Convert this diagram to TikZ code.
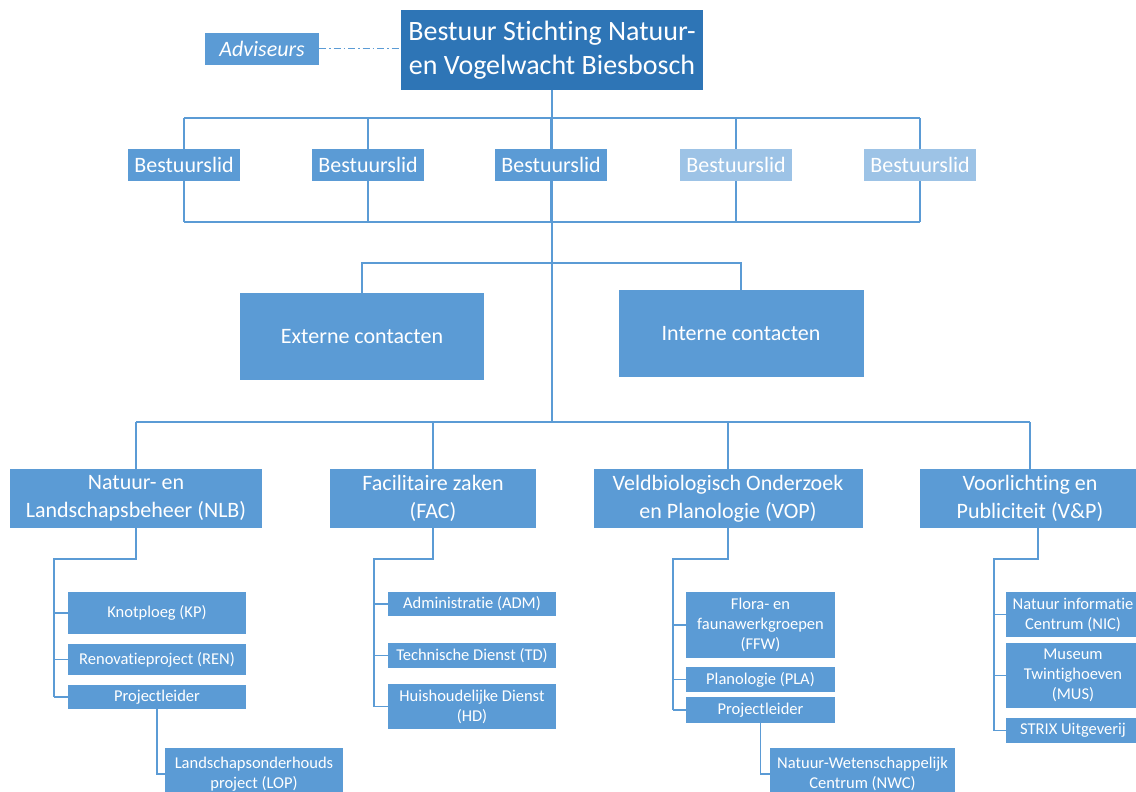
\documentclass[tikz,border=0pt]{standalone}
\usepackage{fontspec}
\setmainfont{Carlito}[Ligatures=NoCommon]
\usetikzlibrary{backgrounds}

\definecolor{blauw}{HTML}{5B9BD5}
\definecolor{donkerblauw}{HTML}{2E75B6}
\definecolor{lichtblauw}{HTML}{9DC3E6}

\tikzset{
  vak/.style={fill=blauw, text=white, inner sep=0pt, align=center},
  maat/.style 2 args={minimum width=#1pt, minimum height=#2pt},
  groot/.style={font=\fontsize{22}{28}\selectfont},
  klein/.style={font=\fontsize{16.5}{20}\selectfont},
  lijn/.style={draw=blauw, line width=1.3pt},
}

\begin{document}
\begin{tikzpicture}[x=1pt, y=-1pt]

\useasboundingbox (0,0) rectangle (1136,792);
\clip (0,0) rectangle (1136,792);

% Hoogte van de verbindingslijnen
\def \yLidBoven {118}
\def \yLidOnder {222}
\def \yContact {263}
\def \yAfdeling {422}
\def \yRug {559}

% Bestuur en adviseurs
\node[vak, fill=donkerblauw, maat={302}{80}, font=\fontsize{28}{34}\selectfont] (bestuur) at (552,50) {Bestuur Stichting Natuur-\\en Vogelwacht Biesbosch};
\node[vak, maat={114}{32}, font={\fontsize{22}{28}\selectfont\itshape}] (adviseurs) at (262,49) {Adviseurs};

% Bestuursleden
\foreach \x/\kleur [count=\i] in {184/blauw, 368/blauw, 551/blauw, 736/lichtblauw, 920/lichtblauw}
  \node[vak, fill=\kleur, maat={112}{32}, groot] (lid\i) at (\x,165) {Bestuurslid};

% Contacten
\node[vak, maat={244}{87}, groot] (extern) at (362,336.5) {Externe contacten};
\node[vak, maat={245}{87}, groot] (intern) at (741,333.5) {Interne contacten};

% Afdelingen
\node[vak, maat={252}{59}, groot] (nlb) at (136,498.5) {Natuur- en\\Landschapsbeheer (NLB)};
\node[vak, maat={206}{59}, groot] (fac) at (433,498.5) {Facilitaire zaken\\(FAC)};
\node[vak, maat={269}{59}, groot] (vop) at (728,498.5) {Veldbiologisch Onderzoek\\en Planologie (VOP)};
\node[vak, maat={220}{59}, groot] (vp) at (1030,498.5) {Voorlichting en\\Publiciteit (V\&P)};

% Werkgroepen NLB
\node[vak, maat={178}{42}, klein] (kp) at (157,613) {Knotploeg (KP)};
\node[vak, maat={178}{31}, klein] (ren) at (157,659.5) {Renovatieproject (REN)};
\node[vak, maat={178}{24}, klein] (pl1) at (157,697) {Projectleider};
\node[vak, maat={178}{52}, klein] (lop) at (254,774) {Landschapsonderhouds\\project (LOP)};

% Werkgroepen FAC
\node[vak, maat={168}{24}, klein] (adm) at (472,604) {Administratie (ADM)};
\node[vak, maat={168}{25}, klein] (td) at (472,655.5) {Technische Dienst (TD)};
\node[vak, maat={168}{45}, klein] (hd) at (472,706.5) {Huishoudelijke Dienst\\(HD)};

% Werkgroepen VOP
\node[vak, maat={149}{66}, klein] (ffw) at (760.5,625) {Flora- en\\faunawerkgroepen\\(FFW)};
\node[vak, maat={149}{25}, klein] (pla) at (760.5,679.5) {Planologie (PLA)};
\node[vak, maat={149}{26}, klein] (pl2) at (760.5,710) {Projectleider};
\node[vak, maat={185}{52}, klein] (nwc) at (862.5,774) {Natuur-Wetenschappelijk\\Centrum (NWC)};

% Werkgroepen V&P
\node[vak, maat={134}{45}, klein] (nic) at (1073,614.5) {Natuur informatie\\Centrum (NIC)};
\node[vak, maat={134}{65}, klein] (mus) at (1073,675.5) {Museum\\Twintighoeven\\(MUS)};
\node[vak, maat={134}{25}, klein] (strix) at (1073,730.5) {STRIX Uitgeverij};

\begin{pgfonlayer}{background}
\fill[white] (0,0) rectangle (1136,792);

\coordinate (lidBoven) at (551,\yLidBoven);
\coordinate (lidOnder) at (551,\yLidOnder);
\coordinate (contact) at (551,\yContact);
\coordinate (afdeling) at (551,\yAfdeling);

% adviseurs
\draw[lijn, line width=1pt, dash pattern=on 7pt off 3pt on 1.5pt off 3pt] (adviseurs.east) -- (adviseurs.east -| bestuur.west);

% hoofdlijn en bestuursleden
\draw[lijn] (bestuur.south) -- (bestuur.south |- afdeling);
\draw[lijn] (lid1 |- lidBoven) -- (lid5 |- lidBoven);
\draw[lijn] (lid1 |- lidOnder) -- (lid5 |- lidOnder);
\foreach \i in {1,...,5}
  \draw[lijn] (lid\i |- lidBoven) -- (lid\i |- lidOnder);

% contacten
\draw[lijn] (extern.north) -- (extern.north |- contact) -- (intern.north |- contact) -- (intern.north);

% afdelingen
\draw[lijn] (nlb.north |- afdeling) -- (vp.north |- afdeling);
\foreach \a in {nlb,fac,vop,vp}
  \draw[lijn] (\a.north |- afdeling) -- (\a.north);

% werkgroepen
\coordinate (nlbRug) at (54,\yRug);
\coordinate (facRug) at (374,\yRug);
\coordinate (vopRug) at (673,\yRug);
\coordinate (vpRug) at (994,\yRug);

\draw[lijn] (nlb.south) |- (nlbRug) -- (nlbRug |- pl1.west);
\foreach \n in {kp,ren,pl1}
  \draw[lijn] (nlbRug |- \n.west) -- (\n.west);
\draw[lijn] (pl1.south) |- (lop.west);

\draw[lijn] (fac.south) |- (facRug) -- (facRug |- hd.west);
\foreach \n in {adm,td,hd}
  \draw[lijn] (facRug |- \n.west) -- (\n.west);

\draw[lijn] (vop.south) |- (vopRug) -- (vopRug |- pl2.west);
\foreach \n in {ffw,pla,pl2}
  \draw[lijn] (vopRug |- \n.west) -- (\n.west);
\draw[lijn] (pl2.south) |- (nwc.west);

\draw[lijn] ([xshift=8pt]vp.south) |- (vpRug) -- (vpRug |- strix.west);
\foreach \n in {nic,mus,strix}
  \draw[lijn] (vpRug |- \n.west) -- (\n.west);
\end{pgfonlayer}

\end{tikzpicture}
\end{document}
